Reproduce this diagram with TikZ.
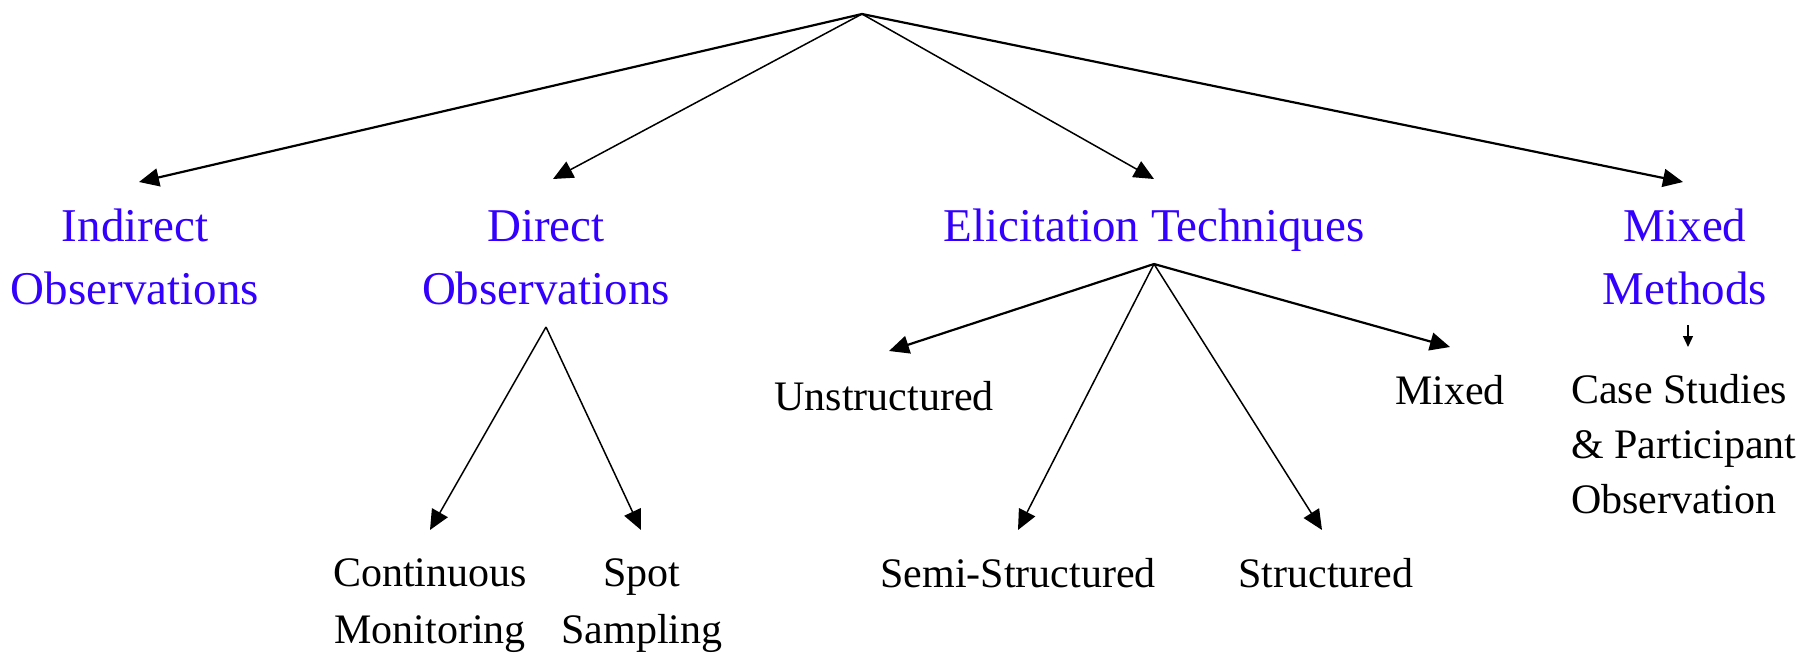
\documentclass[tikz,border=0pt]{standalone}
\usepackage{fontspec}
\setmainfont{Liberation Serif}
\usetikzlibrary{arrows.meta}
\definecolor{tblue}{RGB}{51,0,255}
\begin{document}
\begin{tikzpicture}[x=1pt,y=-1pt,
  head/.style={font=\fontsize{47}{63}\selectfont, text=tblue, align=center, inner sep=0pt, anchor=base},
  leaf/.style={font=\fontsize{42}{57}\selectfont, align=center, inner sep=0pt, anchor=base},
  conn/.style={-{Triangle[length=20pt,width=18pt]}, line width=1.5pt},
  heavyconn/.style={conn, line width=2.2pt},
  smallconn/.style={-{Triangle[length=11pt,width=10pt]}, line width=1.2pt}]
\useasboundingbox (0,0) rectangle (1814,653);
% apexes and arrow ends
\coordinate (root) at (862,14);
\coordinate (tI) at (139,182);
\coordinate (tD) at (553,179);
\coordinate (tE) at (1154,179);
\coordinate (tM) at (1683,182);
\coordinate (dApex) at (546,327);
\coordinate (tC) at (430,530);
\coordinate (tS) at (641,530);
\coordinate (eApex) at (1154,264);
\coordinate (tU) at (889,351);
\coordinate (tSS) at (1018,530);
\coordinate (tST) at (1322,530);
\coordinate (tMx) at (1450,347);
\coordinate (mApex) at (1688,325);
\coordinate (tCS) at (1688,347);
% headings (base anchor = baseline of last line)
\node[head] (indirect) at (135,304) {Indirect\\Observations};
\node[head] (direct) at (546,304) {Direct\\Observations};
\node[head] (elicit) at (1154,241) {Elicitation Techniques};
\node[head] (mixedm) at (1685,304) {Mixed\\Methods};
% leaves
\node[leaf] (cont) at (430,643) {Continuous\\Monitoring};
\node[leaf] (spot) at (642,643) {Spot\\Sampling};
\node[leaf] (unstr) at (884,410) {Unstructured};
\node[leaf] (mixed) at (1450,404) {Mixed};
\node[leaf] (semi) at (1018,587) {Semi-Structured};
\node[leaf] (struct) at (1326,587) {Structured};
\node[leaf, align=left, anchor=base west, font=\fontsize{42}{55}\selectfont] (case) at (1571,513) {Case Studies\\\& Participant\\Observation};
% connectors
\draw[heavyconn] (root) -- (tI);
\draw[conn] (root) -- (tD);
\draw[conn] (root) -- (tE);
\draw[heavyconn] (root) -- (tM);
\draw[conn] (dApex) -- (tC);
\draw[conn] (dApex) -- (tS);
\draw[heavyconn] (eApex) -- (tU);
\draw[conn] (eApex) -- (tSS);
\draw[conn] (eApex) -- (tST);
\draw[heavyconn] (eApex) -- (tMx);
\draw[smallconn] (mApex) -- (tCS);
\end{tikzpicture}
\end{document}
